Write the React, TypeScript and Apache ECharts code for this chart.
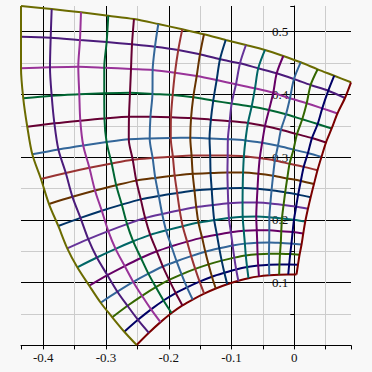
import { useEffect, useRef } from "react";
import * as echarts from "echarts";

// Grid nodes: each row holds 16 [x, y] points (left -> right).
const row00 = [[-0.4355,0.5409],[-0.3866,0.5361],[-0.3399,0.5308],[-0.2964,0.5254],[-0.2555,0.5202],[-0.2167,0.5122],[-0.1785,0.5037],[-0.1439,0.4958],[-0.1093,0.4867],[-0.0770,0.4787],[-0.0467,0.4708],[-0.0175,0.4612],[0.0102,0.4512],[0.0373,0.4400],[0.0637,0.4298],[0.0904,0.4193]];
const row01 = [[-0.4355,0.4920],[-0.3882,0.4904],[-0.3415,0.4867],[-0.2990,0.4835],[-0.2586,0.4798],[-0.2220,0.4760],[-0.1849,0.4708],[-0.1503,0.4639],[-0.1184,0.4559],[-0.0865,0.4496],[-0.0574,0.4416],[-0.0280,0.4336],[-0.0005,0.4245],[0.0261,0.4150],[0.0542,0.4059],[0.0808,0.3943]];
const row02 = [[-0.4355,0.4416],[-0.3893,0.4432],[-0.3442,0.4441],[-0.3028,0.4426],[-0.2602,0.4405],[-0.2257,0.4389],[-0.1901,0.4346],[-0.1555,0.4293],[-0.1237,0.4229],[-0.0929,0.4161],[-0.0626,0.4097],[-0.0335,0.4027],[-0.0069,0.3938],[0.0198,0.3858],[0.0446,0.3778],[0.0688,0.3696]];
const row03 = [[-0.4319,0.3938],[-0.3866,0.3979],[-0.3426,0.4002],[-0.3028,0.4018],[-0.2618,0.4027],[-0.2260,0.4006],[-0.1938,0.3990],[-0.1610,0.3954],[-0.1291,0.3900],[-0.0998,0.3855],[-0.0679,0.3807],[-0.0403,0.3751],[-0.0132,0.3683],[0.0127,0.3603],[0.0373,0.3528],[0.0596,0.3457]];
const row04 = [[-0.4255,0.3485],[-0.3823,0.3539],[-0.3410,0.3582],[-0.3025,0.3618],[-0.2634,0.3645],[-0.2292,0.3643],[-0.1965,0.3635],[-0.1645,0.3624],[-0.1329,0.3598],[-0.1029,0.3574],[-0.0738,0.3544],[-0.0467,0.3495],[-0.0212,0.3437],[0.0043,0.3367],[0.0282,0.3304],[0.0505,0.3233]];
const row05 = [[-0.4175,0.3045],[-0.3759,0.3122],[-0.3363,0.3186],[-0.2991,0.3240],[-0.2637,0.3284],[-0.2304,0.3299],[-0.1968,0.3307],[-0.1657,0.3310],[-0.1350,0.3299],[-0.1058,0.3286],[-0.0778,0.3267],[-0.0512,0.3229],[-0.0260,0.3181],[-0.0013,0.3120],[0.0218,0.3065],[0.0433,0.3002]];
const row06 = [[-0.4037,0.2652],[-0.3641,0.2747],[-0.3265,0.2830],[-0.2910,0.2900],[-0.2574,0.2959],[-0.2257,0.2988],[-0.1935,0.3010],[-0.1637,0.3028],[-0.1340,0.3028],[-0.1061,0.3026],[-0.0803,0.3015],[-0.0550,0.2985],[-0.0309,0.2947],[-0.0075,0.2894],[0.0150,0.2845],[0.0370,0.2790]];
const row07 = [[-0.3909,0.2253],[-0.3535,0.2368],[-0.3176,0.2469],[-0.2838,0.2553],[-0.2518,0.2626],[-0.2215,0.2669],[-0.1906,0.2706],[-0.1619,0.2735],[-0.1334,0.2747],[-0.1065,0.2755],[-0.0816,0.2754],[-0.0572,0.2735],[-0.0338,0.2703],[-0.0112,0.2661],[0.0104,0.2620],[0.0314,0.2572]];
const row08 = [[-0.3761,0.1903],[-0.3407,0.2032],[-0.3068,0.2147],[-0.2749,0.2244],[-0.2446,0.2327],[-0.2159,0.2381],[-0.1866,0.2427],[-0.1590,0.2467],[-0.1316,0.2488],[-0.1060,0.2505],[-0.0822,0.2510],[-0.0586,0.2497],[-0.0362,0.2473],[-0.0145,0.2438],[0.0062,0.2403],[0.0261,0.2362]];
const row09 = [[-0.3618,0.1547],[-0.3283,0.1694],[-0.2964,0.1822],[-0.2665,0.1933],[-0.2376,0.2029],[-0.2105,0.2094],[-0.1826,0.2153],[-0.1562,0.2204],[-0.1299,0.2237],[-0.1052,0.2265],[-0.0824,0.2279],[-0.0598,0.2276],[-0.0381,0.2261],[-0.0171,0.2236],[0.0029,0.2209],[0.0218,0.2177]];
const row10 = [[-0.3458,0.1245],[-0.3146,0.1401],[-0.2848,0.1539],[-0.2567,0.1659],[-0.2296,0.1761],[-0.2043,0.1833],[-0.1778,0.1900],[-0.1527,0.1957],[-0.1276,0.1997],[-0.1041,0.2030],[-0.0822,0.2049],[-0.0606,0.2053],[-0.0397,0.2043],[-0.0196,0.2024],[-0.0005,0.2002],[0.0175,0.1974]];
const row11 = [[-0.3267,0.0951],[-0.2978,0.1119],[-0.2703,0.1265],[-0.2443,0.1393],[-0.2191,0.1500],[-0.1957,0.1579],[-0.1708,0.1654],[-0.1469,0.1718],[-0.1233,0.1764],[-0.1010,0.1802],[-0.0805,0.1828],[-0.0598,0.1837],[-0.0398,0.1834],[-0.0207,0.1820],[-0.0027,0.1806],[0.0143,0.1783]];
const row12 = [[-0.3085,0.0680],[-0.2819,0.0856],[-0.2566,0.1012],[-0.2325,0.1144],[-0.2094,0.1257],[-0.1876,0.1342],[-0.1643,0.1423],[-0.1418,0.1493],[-0.1195,0.1547],[-0.0982,0.1592],[-0.0787,0.1622],[-0.0590,0.1637],[-0.0400,0.1640],[-0.0215,0.1633],[-0.0045,0.1624],[0.0116,0.1608]];
const row13 = [[-0.2900,0.0448],[-0.2658,0.0631],[-0.2427,0.0790],[-0.2207,0.0929],[-0.1995,0.1045],[-0.1796,0.1133],[-0.1579,0.1219],[-0.1367,0.1292],[-0.1157,0.1351],[-0.0956,0.1399],[-0.0773,0.1434],[-0.0585,0.1453],[-0.0403,0.1461],[-0.0228,0.1460],[-0.0065,0.1455],[0.0084,0.1444]];
const row14 = [[-0.2709,0.0218],[-0.2491,0.0408],[-0.2282,0.0574],[-0.2084,0.0716],[-0.1890,0.0835],[-0.1710,0.0926],[-0.1509,0.1017],[-0.1312,0.1095],[-0.1114,0.1157],[-0.0926,0.1210],[-0.0752,0.1248],[-0.0575,0.1273],[-0.0402,0.1286],[-0.0236,0.1291],[-0.0081,0.1291],[0.0059,0.1284]];
const row15 = [[-0.2512,0.0006],[-0.2317,0.0201],[-0.2132,0.0371],[-0.1955,0.0516],[-0.1782,0.0637],[-0.1619,0.0731],[-0.1436,0.0825],[-0.1251,0.0907],[-0.1068,0.0974],[-0.0891,0.1029],[-0.0730,0.1071],[-0.0563,0.1100],[-0.0398,0.1117],[-0.0241,0.1127],[-0.0096,0.1131],[0.0035,0.1130]];

const COLORS = ["#6b6b00","#4b1b7b","#993399","#006633","#660033","#336699","#993333","#663300","#003366","#663399","#006666","#660066","#336699","#336600","#000066","#7a0000"];

const X_MIN = -0.4355;
const X_MAX = 0.0904;
const Y_MIN = 0;
const Y_MAX = 0.5409;

const ROWS = [row00,row01,row02,row03,row04,row05,row06,row07,row08,row09,row10,row11,row12,row13,row14,row15];

const FONT = "Liberation Serif";
const GRID_LEFT = 21;
const GRID_RIGHT = 21;
const PLOT_W = 372 - GRID_LEFT - GRID_RIGHT;

function lineSeries(data: number[][], color: string) {
  return {
    type: "line",
    data,
    showSymbol: false,
    symbol: "none",
    smooth: 0.3,
    clip: false,
    silent: true,
    lineStyle: { color, width: 2 },
    itemStyle: { color },
    emphasis: { disabled: true },
  };
}

function axisCommon() {
  return {
    type: "value",
    minInterval: 0.1,
    maxInterval: 0.1,
    axisLine: { show: true, onZero: false, lineStyle: { color: "#000", width: 1 } },
    axisTick: { show: true, length: 4, lineStyle: { color: "#000" } },
    minorTick: { show: true, splitNumber: 2, length: 4, lineStyle: { color: "#000" } },
    splitLine: { show: true, showMinLine: false, showMaxLine: false, lineStyle: { color: "#000", width: 1 } },
    minorSplitLine: { show: true, lineStyle: { color: "#cccccc", width: 1 } },
    axisLabel: {
      showMinLabel: false,
      showMaxLabel: false,
      fontFamily: FONT,
      fontSize: 13,
      color: "#111",
      margin: 6,
    },
  };
}

export default function App() {
  const ref = useRef<HTMLDivElement>(null);
  useEffect(() => {
    if (!ref.current) return;
    const chart = echarts.init(ref.current, undefined, { renderer: "svg" });
    const series: any[] = [];
    ROWS.forEach((row, i) => series.push(lineSeries(row, COLORS[i])));
    for (let c = 0; c < 16; c++) {
      series.push(lineSeries(ROWS.map((row) => row[c]), COLORS[c]));
    }
    // place the y axis on x = 0
    const yOffset = -((0 - X_MIN) / (X_MAX - X_MIN)) * PLOT_W;
    chart.setOption({
      animation: false,
      backgroundColor: "#f8f8f8",
      textStyle: { fontFamily: FONT },
      grid: { left: GRID_LEFT, right: GRID_RIGHT, top: 6, bottom: 26.6, containLabel: false, outerBoundsMode: "none" },
      xAxis: { ...axisCommon(), min: X_MIN, max: X_MAX, position: "bottom" },
      yAxis: { ...axisCommon(), min: Y_MIN, max: Y_MAX, position: "left", offset: yOffset },
      series,
    });
    return () => chart.dispose();
  }, []);
  return <div ref={ref} style={{ position: "fixed", left: 0, top: 0, width: 372, height: 372 }} />;
}
